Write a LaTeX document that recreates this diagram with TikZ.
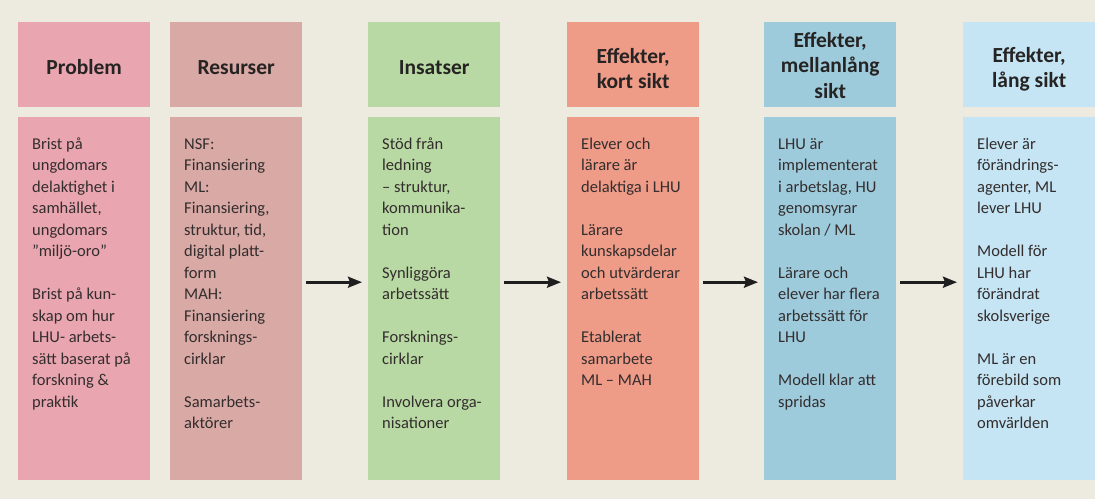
\documentclass[tikz,border=0pt]{standalone}
\usepackage{fontspec}
\setmainfont{Carlito}
\usetikzlibrary{arrows.meta}
\definecolor{bg}{HTML}{EDEBE0}
\definecolor{cProblem}{HTML}{E9A6B0}
\definecolor{cRes}{HTML}{D8A9A5}
\definecolor{cIns}{HTML}{B8D9A3}
\definecolor{cKort}{HTML}{EE9B88}
\definecolor{cMell}{HTML}{9ECBDC}
\definecolor{cLang}{HTML}{C5E5F4}
\definecolor{hdrtext}{HTML}{262323}
\definecolor{bodytext}{HTML}{332D2D}
\definecolor{arrowcol}{HTML}{1E1E1E}
\tikzset{
  hdr/.style={inner sep=0pt, minimum width=132pt, minimum height=85pt, anchor=north west,
    font=\fontsize{21.5}{25.5}\selectfont\bfseries, text=hdrtext},
  bodybox/.style={inner sep=0pt, minimum width=132pt, minimum height=363pt, anchor=north west,
    text=bodytext},
  arr/.style={line width=2.6pt, draw=arrowcol, -{Stealth[length=14pt,width=11pt,inset=2pt]}}
}
\newcommand{\hd}[2]{\raisebox{#1}[\height][\depth]{\begin{tabular}{@{}c@{}}#2\end{tabular}}}
\newcommand{\btext}[1]{\parbox[c][363pt][t]{104pt}{\fontsize{16.5}{21.5}\selectfont\raggedright\rule{0pt}{32pt}#1}}
\begin{document}
\begin{tikzpicture}[x=1pt,y=1pt]
\fill[bg] (0,0) rectangle (1095,499);
\useasboundingbox (0,0) rectangle (1095,499);

% headers
\node[hdr, fill=cProblem] (h1) at (18,477) {\hd{-5pt}{Problem}};
\node[hdr, fill=cRes] (h2) at (170,477) {\hd{-5pt}{Resurser}};
\node[hdr, fill=cIns] (h3) at (368,477) {\hd{-5pt}{Insatser}};
\node[hdr, fill=cKort] (h4) at (567,477) {\hd{-6pt}{Effekter,\\kort sikt}};
\node[hdr, fill=cMell] (h5) at (764,477) {\hd{-3pt}{Effekter,\\mellanlång\\sikt}};
\node[hdr, fill=cLang] (h6) at (963,477) {\hd{-5pt}{Effekter,\\lång sikt}};

% bodies
\node[bodybox, fill=cProblem] (b1) at (18,382) {\btext{Brist på\\ungdomars\\delaktighet i\\samhället,\\ungdomars\\”miljö-oro”\\[21.5pt]Brist på kun-\\skap om hur\\LHU- arbets-\\sätt baserat på\\forskning \& \\praktik}};
\node[bodybox, fill=cRes] (b2) at (170,382) {\btext{NSF:\\Finansiering\\ML:\\Finansiering,\\struktur, tid,\\digital platt-\\form\\MAH:\\Finansiering\\forsknings-\\cirklar\\[21.5pt]Samarbets-\\aktörer}};
\node[bodybox, fill=cIns] (b3) at (368,382) {\btext{Stöd från\\ledning\\– struktur,\\kommunika-\\tion\\[21.5pt]Synliggöra\\arbetssätt\\[21.5pt]Forsknings-\\cirklar\\[21.5pt]Involvera orga-\\nisationer}};
\node[bodybox, fill=cKort] (b4) at (567,382) {\btext{Elever och\\lärare är\\delaktiga i LHU\\[21.5pt]Lärare\\kunskapsdelar\\och utvärderar\\arbetssätt\\[21.5pt]Etablerat\\samarbete\\ML – MAH}};
\node[bodybox, fill=cMell] (b5) at (764,382) {\btext{LHU är\\implementerat\\i arbetslag, HU\\genomsyrar\\skolan / ML\\[21.5pt]Lärare och\\elever har flera\\arbetssätt för\\LHU\\[21.5pt]Modell klar att\\spridas}};
\node[bodybox, fill=cLang] (b6) at (963,382) {\btext{Elever är\\förändrings-\\agenter, ML\\lever LHU\\[21.5pt]Modell för\\LHU har\\förändrat\\skolsverige\\[21.5pt]ML är en\\förebild som\\påverkar\\omvärlden}};

% arrows
\draw[arr] ([shift={(4pt,16.5pt)}]b2.east) -- ([shift={(-6pt,16.5pt)}]b3.west);
\draw[arr] ([shift={(4pt,16.5pt)}]b3.east) -- ([shift={(-6pt,16.5pt)}]b4.west);
\draw[arr] ([shift={(4pt,16.5pt)}]b4.east) -- ([shift={(-6pt,16.5pt)}]b5.west);
\draw[arr] ([shift={(4pt,16.5pt)}]b5.east) -- ([shift={(-6pt,16.5pt)}]b6.west);
\end{tikzpicture}
\end{document}
